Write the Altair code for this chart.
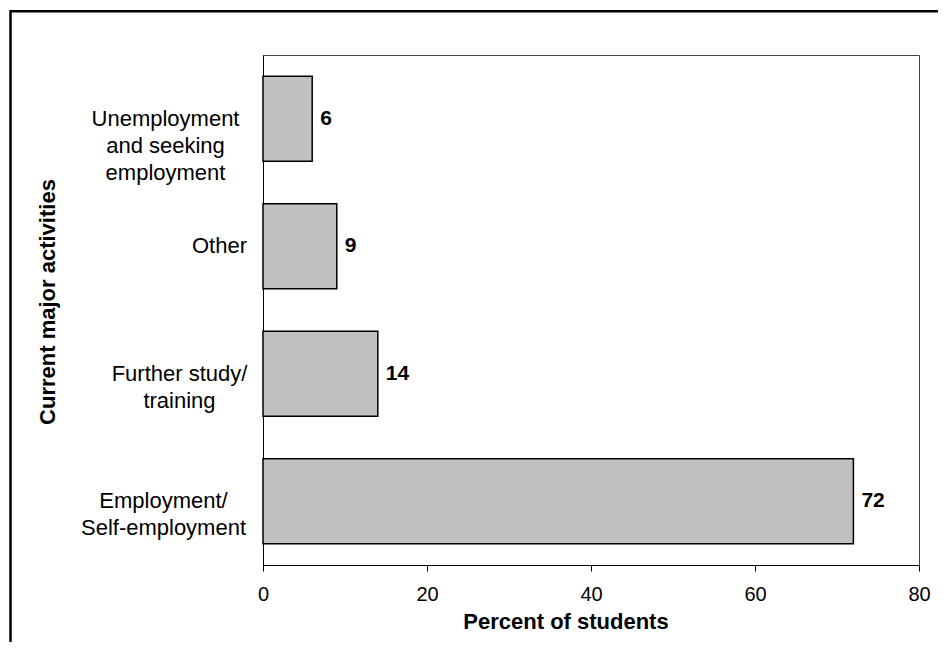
import json
import altair as alt
import pandas as pd

# ---- data ----
categories = [
    "Unemployment and seeking employment",
    "Other",
    "Further study/ training",
    "Employment/ Self-employment",
]
label_lines = [
    ["Unemployment", "and seeking", "employment"],
    ["Other"],
    ["Further study/", "training"],
    ["Employment/", "Self-employment"],
]
percents = [6, 9, 14, 72]
x_ticks = [0, 20, 40, 60, 80]

df = pd.DataFrame({"activity": categories, "percent": percents})

FONT = "Liberation Sans, Arial, sans-serif"

# multi-line axis labels
label_expr = ""
for cat, lines in zip(categories, label_lines):
    label_expr += f"datum.label == {json.dumps(cat)} ? {json.dumps(lines)} : "
label_expr += "datum.label"

# horizontal placement of each (centered) label block, as padding from the axis
label_pad = {
    "Unemployment and seeking employment": 98,
    "Other": 44,
    "Further study/ training": 84,
    "Employment/ Self-employment": 100,
}
pad_cond = {
    "condition": [
        {"test": f"datum.label == {json.dumps(k)}", "value": v}
        for k, v in label_pad.items()
    ],
    "value": 90,
}

y_enc = alt.Y(
    "activity:N",
    sort=categories,
    scale=alt.Scale(paddingInner=1 / 3, paddingOuter=1 / 6),
    axis=alt.Axis(
        title="Current major activities",
        titleFont=FONT,
        titleFontSize=22,
        titleFontWeight="bold",
        titleColor="black",
        titleAngle=270,
        titleX=-216,
        titleY=246.5,
        titleAlign="center",
        titleBaseline="middle",
        labelFont=FONT,
        labelFontSize=22,
        labelColor="black",
        labelAlign="center",
        labelBaseline="middle",
        labelLineHeight=27,
        labelLimit=0,
        labelExpr=label_expr,
        labelPadding=pad_cond,
        ticks=False,
        tickSize=0,
        domainColor="black",
        domainWidth=1,
        grid=False,
    ),
)

x_enc = alt.X(
    "percent:Q",
    scale=alt.Scale(domain=[0, 80], nice=False),
    axis=alt.Axis(
        values=x_ticks,
        title="Percent of students",
        titleFont=FONT,
        titleFontSize=22,
        titleFontWeight="bold",
        titleColor="black",
        titleX=302.5,
        titleY=63,
        titleAlign="center",
        titleBaseline="alphabetic",
        labelFont=FONT,
        labelFontSize=20,
        labelColor="black",
        labelFlush=False,
        labelPadding=13,
        tickSize=6,
        tickColor="black",
        domainColor="black",
        domainWidth=1,
        grid=False,
    ),
)

bars = alt.Chart(df).mark_bar(
    color="#C0C0C0", stroke="black", strokeWidth=1.5
).encode(x=x_enc, y=y_enc)

values = alt.Chart(df).mark_text(
    align="left", baseline="middle", dx=8, font=FONT, fontSize=21,
    fontWeight="bold", color="black"
).encode(x="percent:Q", y=alt.Y("activity:N", sort=categories), text="percent:Q")

frame = alt.Chart(pd.DataFrame({"k": [0]})).mark_rect(
    fill="white", fillOpacity=0, stroke="black", strokeWidth=2.5
).encode(
    x=alt.value(-252.5), x2=alt.value(900),
    y=alt.value(-43.7), y2=alt.value(900),
)

chart = alt.layer(frame, bars, values).properties(
    width=656,
    height=510,
    padding={"left": 255, "top": 47, "right": 19, "bottom": 77},
    autosize=alt.AutoSizeParams(type="none"),
    background="white",
).configure_view(stroke="#444", strokeWidth=1)

chart.save("out.html", embed_options={"renderer": "svg", "actions": False})
